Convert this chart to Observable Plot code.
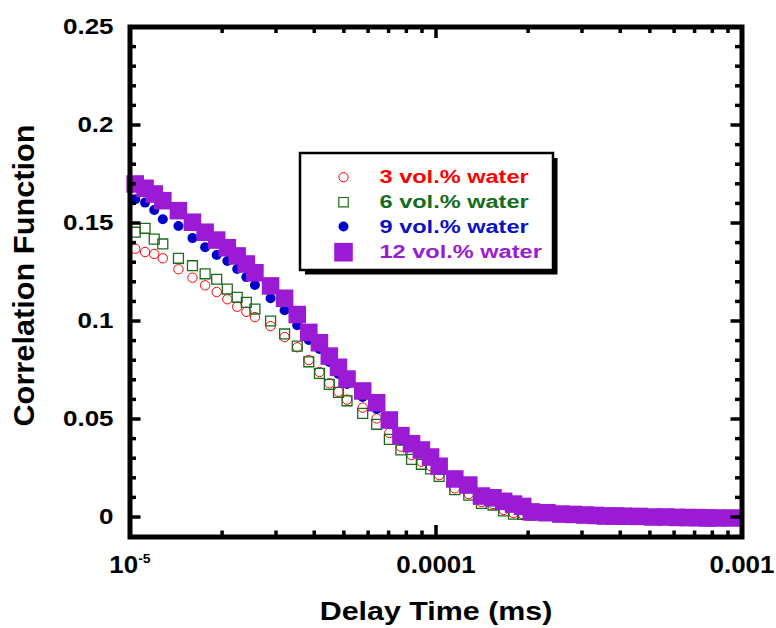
<!DOCTYPE html>
<html>
<head>
<meta charset="utf-8">
<script src="https://cdn.jsdelivr.net/npm/d3@7"></script>
<script src="https://cdn.jsdelivr.net/npm/@observablehq/plot@0.6"></script>
<style>
  html, body { margin: 0; padding: 0; background: #ffffff; }
</style>
</head>
<body>
<script>
// ---- data ----
const delayTime = [1.04e-5, 1.12e-5, 1.2e-5, 1.28e-5, 1.44e-5, 1.6e-5, 1.76e-5, 1.92e-5, 2.08e-5, 2.24e-5, 2.4e-5, 2.56e-5,
  2.88e-5, 3.2e-5, 3.52e-5, 3.84e-5, 4.16e-5, 4.48e-5, 4.8e-5, 5.12e-5, 5.76e-5, 6.4e-5, 7.04e-5, 7.68e-5,
  8.32e-5, 8.96e-5, 9.6e-5, 1.024e-4, 1.152e-4, 1.28e-4, 1.408e-4, 1.536e-4, 1.664e-4, 1.792e-4, 1.92e-4, 2.048e-4,
  2.304e-4, 2.56e-4, 2.816e-4, 3.072e-4, 3.328e-4, 3.584e-4, 3.84e-4, 4.096e-4, 4.608e-4, 5.12e-4, 5.632e-4, 6.144e-4,
  6.656e-4, 7.168e-4, 7.68e-4, 8.192e-4, 9.216e-4];

const water3 = [0.1369, 0.1352, 0.1342, 0.1320, 0.1264, 0.1221, 0.1182, 0.1148, 0.1111, 0.1073, 0.1047, 0.1020,
  0.0974, 0.0918, 0.0866, 0.0801, 0.0740, 0.0682, 0.0639, 0.0599, 0.0558, 0.0503, 0.0429, 0.0359,
  0.0316, 0.0282, 0.0260, 0.0214, 0.0146, 0.0117, 0.0077, 0.0066, 0.0036, 0.0020, 0.0015, 0.0012,
  0.0010, 0.0008, 0.0007, 0.0006, 0.0005, 0.0004, 0.0003, 0.0002, 0.0001, 0.0, 0.0, -0.0001,
  -0.0001, -0.0002, -0.0002, -0.0002, -0.0002];

const water6 = [0.1453, 0.1473, 0.1418, 0.1393, 0.1320, 0.1282, 0.1241, 0.1213, 0.1163, 0.1121, 0.1095, 0.1061,
  0.1000, 0.0934, 0.0872, 0.0792, 0.0733, 0.0677, 0.0636, 0.0593, 0.0529, 0.0473, 0.0396, 0.0342,
  0.0294, 0.0269, 0.0245, 0.0207, 0.0140, 0.0111, 0.0069, 0.0061, 0.0031, 0.0015, 0.0013, 0.0010,
  0.0008, 0.0007, 0.0006, 0.0005, 0.0004, 0.0004, 0.0003, 0.0002, 0.0001, 0.0, -0.0001, -0.0001,
  -0.0002, -0.0002, -0.0003, -0.0003, -0.0003];

const water9 = [0.1621, 0.1604, 0.1566, 0.1519, 0.1485, 0.1423, 0.1376, 0.1337, 0.1306, 0.1265, 0.1224, 0.1184,
  0.1116, 0.1055, 0.0978, 0.0903, 0.0857, 0.0791, 0.0730, 0.0679, 0.0612, 0.0551, 0.0474, 0.0393,
  0.0357, 0.0327, 0.0291, 0.0245, 0.0184, 0.0148, 0.0097, 0.0087, 0.0071, 0.0056, 0.0046, 0.0020,
  0.0015, 0.0010, 0.0008, 0.0006, 0.0004, 0.0004, 0.0003, 0.0002, 0.0001, 0.0, 0.0, -0.0001,
  -0.0002, -0.0002, -0.0004, -0.0004, -0.0004];

const water12 = [0.1699, 0.1677, 0.1648, 0.1614, 0.1563, 0.1504, 0.1453, 0.1413, 0.1374, 0.1332, 0.1291, 0.1246,
  0.1179, 0.1116, 0.1033, 0.0942, 0.0889, 0.0821, 0.0764, 0.0704, 0.0643, 0.0583, 0.0495, 0.0415,
  0.0374, 0.0342, 0.0306, 0.0259, 0.0194, 0.0163, 0.0107, 0.0098, 0.0080, 0.0066, 0.0054, 0.0026,
  0.0022, 0.0015, 0.0013, 0.0010, 0.0008, 0.0005, 0.0005, 0.0004, 0.0003, 0.0, 0.0, -0.0002,
  -0.0003, -0.0003, -0.0005, -0.0005, -0.0005];

const seriesNames = ["3 vol.% water", "6 vol.% water", "9 vol.% water", "12 vol.% water"];

const yMajorTicks = [0, 0.05, 0.1, 0.15, 0.2, 0.25];
const yTickLabels = ["0", "0.05", "0.1", "0.15", "0.2", "0.25"];
const yMinorTicks = [0.01, 0.02, 0.03, 0.04, 0.06, 0.07, 0.08, 0.09, 0.11, 0.12, 0.13, 0.14,
  0.16, 0.17, 0.18, 0.19, 0.21, 0.22, 0.23, 0.24];
const xMajorTicks = [1e-5, 1e-4, 1e-3];
const xTickLabels = ["10^-5", "0.0001", "0.001"];
const xMinorTicks = [2e-5, 3e-5, 4e-5, 5e-5, 6e-5, 7e-5, 8e-5, 9e-5,
  2e-4, 3e-4, 4e-4, 5e-4, 6e-4, 7e-4, 8e-4, 9e-4];
const xTitle = "Delay Time (ms)";
const yTitle = "Correlation Function";

// ---- layout ----
const W = 776, H = 628;
const mL = 129.5, mR = 34.5, mT = 26.5, mB = 91.5;
const plotW = W - mL - mR, plotH = H - mT - mB;
const FONT = "'Liberation Sans', Arial, Helvetica, sans-serif";

const rows = (ys) => delayTime.map((t, i) => ({t, g: ys[i]}));

// legend geometry (pixels)
const legBox = {left: 299.5, top: 152.5, right: 552.5, bottom: 269.5};
const legRowsY = [176.7, 201.7, 226, 251.7];
const legSymX = 343, legTextX = 379;
const legColors = ["#ff0000", "#146c1c", "#0a10c8", "#9b1bd5"];

const legendMarks = [
  Plot.frame({fill: "black", stroke: "none",
    insetLeft: legBox.left + 5 - mL, insetRight: W - mR - (legBox.right + 4.5),
    insetTop: legBox.top + 5 - mT, insetBottom: H - mB - (legBox.bottom + 4.5)}),
  Plot.frame({fill: "white", stroke: "black", strokeWidth: 2.5,
    insetLeft: legBox.left - mL, insetRight: W - mR - legBox.right,
    insetTop: legBox.top - mT, insetBottom: H - mB - legBox.bottom}),
  Plot.dot([0], {frameAnchor: "top-left", dx: legSymX - mL, dy: legRowsY[0] - mT, r: 4.6, stroke: "#ff0000", strokeWidth: 1, fill: "none"}),
  Plot.dot([0], {frameAnchor: "top-left", dx: legSymX - mL, dy: legRowsY[1] - mT, symbol: "square", r: 5.3, stroke: "#1b6b1b", strokeWidth: 1.2, fill: "none"}),
  Plot.dot([0], {frameAnchor: "top-left", dx: legSymX - mL, dy: legRowsY[2] - mT, r: 5, fill: "#0000cc"}),
  Plot.dot([0], {frameAnchor: "top-left", dx: legSymX - mL, dy: legRowsY[3] - mT, symbol: "square", r: 10.5, fill: "#9b1bd5"}),
  ...seriesNames.map((name, i) => Plot.text([name], {
    frameAnchor: "top-left", dx: legTextX - mL, dy: legRowsY[i] - mT,
    text: d => d, textAnchor: "start", lineAnchor: "middle",
    fontSize: 19, fontWeight: "bold", fill: legColors[i]
  }))
];

const chart = Plot.plot({
  width: W, height: H,
  marginLeft: mL, marginRight: mR, marginTop: mT, marginBottom: mB,
  x: {type: "log", domain: [1e-5, 1e-3], axis: null},
  y: {domain: [-0.0102, 0.25], axis: null},
  style: {fontFamily: FONT, background: "white", color: "black"},
  marks: [
    Plot.dot(rows(water3), {x: "t", y: "g", r: 4.7, stroke: "#ff0000", strokeWidth: 1, fill: "none"}),
    Plot.dot(rows(water6), {x: "t", y: "g", symbol: "square", r: 5.6, stroke: "#1b6b1b", strokeWidth: 1.3, fill: "none"}),
    Plot.dot(rows(water9), {x: "t", y: "g", r: 5, fill: "#0000cc", stroke: "none"}),
    Plot.dot(rows(water12), {x: "t", y: "g", symbol: "square", r: 9.9, fill: "#9b1bd5", stroke: "none"}),
    // inward ticks: left / right
    Plot.ruleY(yMajorTicks, {y: d => d, insetRight: plotW - 11, stroke: "black", strokeWidth: 3.5}),
    Plot.ruleY(yMajorTicks, {y: d => d, insetLeft: plotW - 11, stroke: "black", strokeWidth: 3.5}),
    Plot.ruleY(yMinorTicks, {y: d => d, insetRight: plotW - 6.5, stroke: "black", strokeWidth: 3.5}),
    Plot.ruleY(yMinorTicks, {y: d => d, insetLeft: plotW - 6.5, stroke: "black", strokeWidth: 3.5}),
    // inward ticks: bottom / top
    Plot.ruleX(xMajorTicks, {x: d => d, insetTop: plotH - 11.5, stroke: "black", strokeWidth: 3.5}),
    Plot.ruleX(xMajorTicks, {x: d => d, insetBottom: plotH - 11.5, stroke: "black", strokeWidth: 3.5}),
    Plot.ruleX(xMinorTicks, {x: d => d, insetTop: plotH - 6, stroke: "black", strokeWidth: 3.5}),
    Plot.ruleX(xMinorTicks, {x: d => d, insetBottom: plotH - 6.5, stroke: "black", strokeWidth: 3.5}),
    Plot.frame({stroke: "black", strokeWidth: 5}),
    // tick labels
    Plot.text(yMajorTicks, {y: d => d, frameAnchor: "left", text: (d, i) => yTickLabels[i],
      textAnchor: "end", lineAnchor: "middle", dx: -16.5, fontSize: 22, fontWeight: "bold"}),
    Plot.text(xMajorTicks, {x: d => d, frameAnchor: "bottom", text: (d, i) => xTickLabels[i],
      textAnchor: "middle", lineAnchor: "middle", dy: 28.5, fontSize: 24, fontWeight: "bold"}),
    // axis titles
    Plot.text([xTitle], {frameAnchor: "bottom", text: d => d, textAnchor: "middle", lineAnchor: "middle",
      dy: 74.5, fontSize: 26, fontWeight: "bold"}),
    Plot.text([yTitle], {frameAnchor: "left", text: d => d, textAnchor: "middle", lineAnchor: "middle",
      rotate: -90, dx: 24 - mL, dy: -6.5, fontSize: 29, fontWeight: "bold"}),
    ...legendMarks
  ]
});

document.body.appendChild(chart);

// ---- post-processing: superscript and horizontal stretch of the bold text ----
function stretchEl(el, s) {
  const x = +el.getAttribute("x") || 0, y = +el.getAttribute("y") || 0;
  const t = el.getAttribute("transform") || "";
  el.setAttribute("transform", `${t} translate(${x},${y}) scale(${s},1) translate(${-x},${-y})`);
}
chart.querySelectorAll("text").forEach((el) => {
  const s = el.textContent;
  if (yTickLabels.includes(s)) stretchEl(el, 1.18);
  else if (xTickLabels.includes(s)) {
    if (s === "10^-5") {
      while (el.firstChild) el.removeChild(el.firstChild);
      const ns = "http://www.w3.org/2000/svg";
      const a = document.createElementNS(ns, "tspan");
      a.textContent = "10";
      const b = document.createElementNS(ns, "tspan");
      b.setAttribute("font-size", "13");
      b.setAttribute("dy", "-10");
      b.textContent = "-5";
      el.appendChild(a); el.appendChild(b);
    }
    stretchEl(el, 1.08);
  }
  else if (s === xTitle) stretchEl(el, 1.17);
  else if (s === yTitle) stretchEl(el, 1.06);
  else if (seriesNames.includes(s)) stretchEl(el, 1.24);
});
</script>
</body>
</html>
